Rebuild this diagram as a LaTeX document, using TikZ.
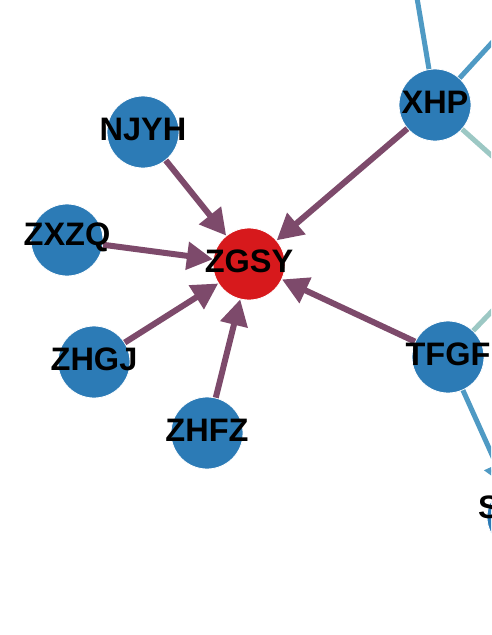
\documentclass[tikz,border=0pt]{standalone}
\usepackage{fontspec}
\setmainfont{Liberation Sans}
\usetikzlibrary{arrows.meta}
\definecolor{nodeblue}{HTML}{2C7BB6}
\definecolor{nodered}{HTML}{D7191C}
\definecolor{edgepurple}{HTML}{7D4A6B}
\definecolor{edgesteel}{HTML}{4F9AC4}
\definecolor{edgeteal}{HTML}{9CC8C4}
\begin{document}
\begin{tikzpicture}[x=1pt,y=-1pt,
  vert/.style={circle, fill=nodeblue, draw=white, line width=0.8pt, minimum size=72pt, inner sep=0pt},
  hub/.style={vert, fill=nodered},
  lab/.style={font=\bfseries\fontsize{32.5}{36}\selectfont, inner sep=0pt, yshift=3pt},
  infl/.style={draw=edgepurple, line width=6pt, -{Triangle[length=26pt,width=27pt]}},
  steelline/.style={draw=edgesteel, line width=5pt},
  tealline/.style={draw=edgeteal, line width=5pt},
]
\clip (0,0) rectangle (491,635);
\fill[white] (0,0) rectangle (491,635);
% nodes
\node[vert] (NJYH) at (143,132) {};
\node[vert] (ZXZQ) at (67,240) {};
\node[hub]  (ZGSY) at (249,264) {};
\node[vert] (ZHGJ) at (94,362) {};
\node[vert] (ZHFZ) at (207,433) {};
\node[vert] (XHP)  at (435,105) {};
\node[vert] (TFGF) at (448,357) {};
\node[vert, minimum size=66pt] (S) at (520,517) {};
% free ends
\coordinate (xhpN)  at (414,-20);
\coordinate (xhpNE) at (520,12);
\coordinate (xhpSE) at (520,181);
\coordinate (tfgfNE) at (520,282);
% connectors
\draw[infl] (NJYH) -- (ZGSY);
\draw[infl] (ZXZQ) -- (ZGSY);
\draw[infl] (ZHGJ) -- (ZGSY);
\draw[infl] (ZHFZ) -- (ZGSY);
\draw[infl] (XHP) -- (ZGSY);
\draw[infl] (TFGF) -- (ZGSY);
\draw[steelline] (XHP) -- (xhpN);
\draw[steelline] (XHP) -- (xhpNE);
\draw[tealline] (XHP) -- (xhpSE);
\draw[tealline] (TFGF) -- (tfgfNE);
\draw[steelline, -{Triangle[length=24pt,width=26pt]}] (TFGF) -- (S);
% labels
\node[lab] (NJYH-t) at (NJYH) {NJYH};
\node[lab] (ZXZQ-t) at (ZXZQ) {ZXZQ};
\node[lab] (ZGSY-t) at (ZGSY) {ZGSY};
\node[lab] (ZHGJ-t) at (ZHGJ) {ZHGJ};
\node[lab] (ZHFZ-t) at (ZHFZ) {ZHFZ};
\node[lab] (XHP-t)  at (XHP)  {XHP};
\node[lab] (TFGF-t) at (TFGF) {TFGF};
\node[lab, anchor=west] (S-t) at (478,510) {S};
\end{tikzpicture}
\end{document}
